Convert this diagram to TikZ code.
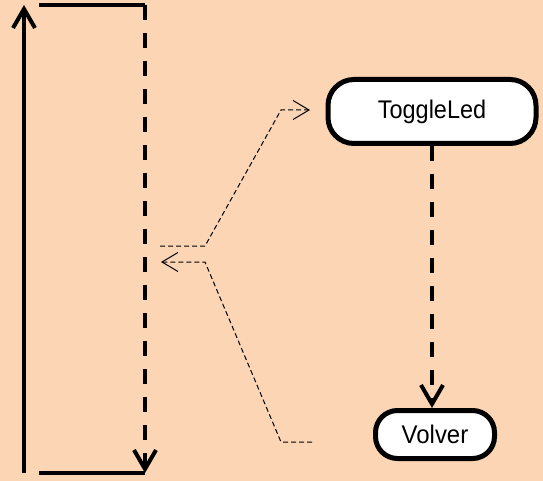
\documentclass[tikz,border=0pt]{standalone}
\usepackage{fontspec}
\setmainfont{Liberation Sans}
\usetikzlibrary{arrows.meta}
\definecolor{peach}{HTML}{FCD5B4}
\begin{document}
\begin{tikzpicture}[x=1pt,y=-1pt,
  heavy/.style={line width=4pt},
  heavydash/.style={heavy,dash pattern=on 15pt off 13pt},
  lightdash/.style={line width=1pt,dash pattern=on 5pt off 3pt},
  bigtip/.style={-{Straight Barb[length=19pt,width=22pt]}},
  smalltip/.style={-{Straight Barb[length=16pt,width=19pt]}},
  state/.style={draw,line width=5pt,fill=white,rounded corners=26pt,inner sep=0pt,
    font=\fontsize{25.5}{25.5}\selectfont},
]
\fill[peach] (0,0) rectangle (543,481);
\useasboundingbox (0,0) rectangle (543,481);

% activity states
\node[state,minimum width=208pt,minimum height=64pt] (toggle) at (432,111.5)
  {\scalebox{0.92}[1]{ToggleLed}};
\node[state,minimum width=119pt,minimum height=48pt,rounded corners=22pt] (volver) at (435,434.5)
  {\raisebox{-2pt}{\scalebox{0.94}[1]{Volver}}};

% loop frame on the left
\coordinate (lb) at (24,473);
\coordinate (lt) at (24,5);
\coordinate (tl) at (39,5);
\coordinate (tr) at (145,5);
\coordinate (bl) at (39,473);
\coordinate (br) at (145,473);
\draw[heavy,bigtip] (lb) -- (lt);
\draw[heavy] (tl) -- (tr);
\draw[heavydash,bigtip] (tr) -- (br);
\draw[heavy] (bl) -- (br);

% thin dashed links
\coordinate (outA) at (160,246);
\coordinate (tipA) at (310,110);
\coordinate (tipB) at (161,262);
\coordinate (outB) at (312,442);
\draw[lightdash,smalltip] (outA) -- (205,246) -- (281,110) -- (tipA);
\draw[lightdash,smalltip] (outB) -- (281,442) -- (205,262) -- (tipB);

% transition between the states
\draw[heavydash,bigtip] (toggle.south) -- (toggle.south |- volver.north);
\end{tikzpicture}
\end{document}
